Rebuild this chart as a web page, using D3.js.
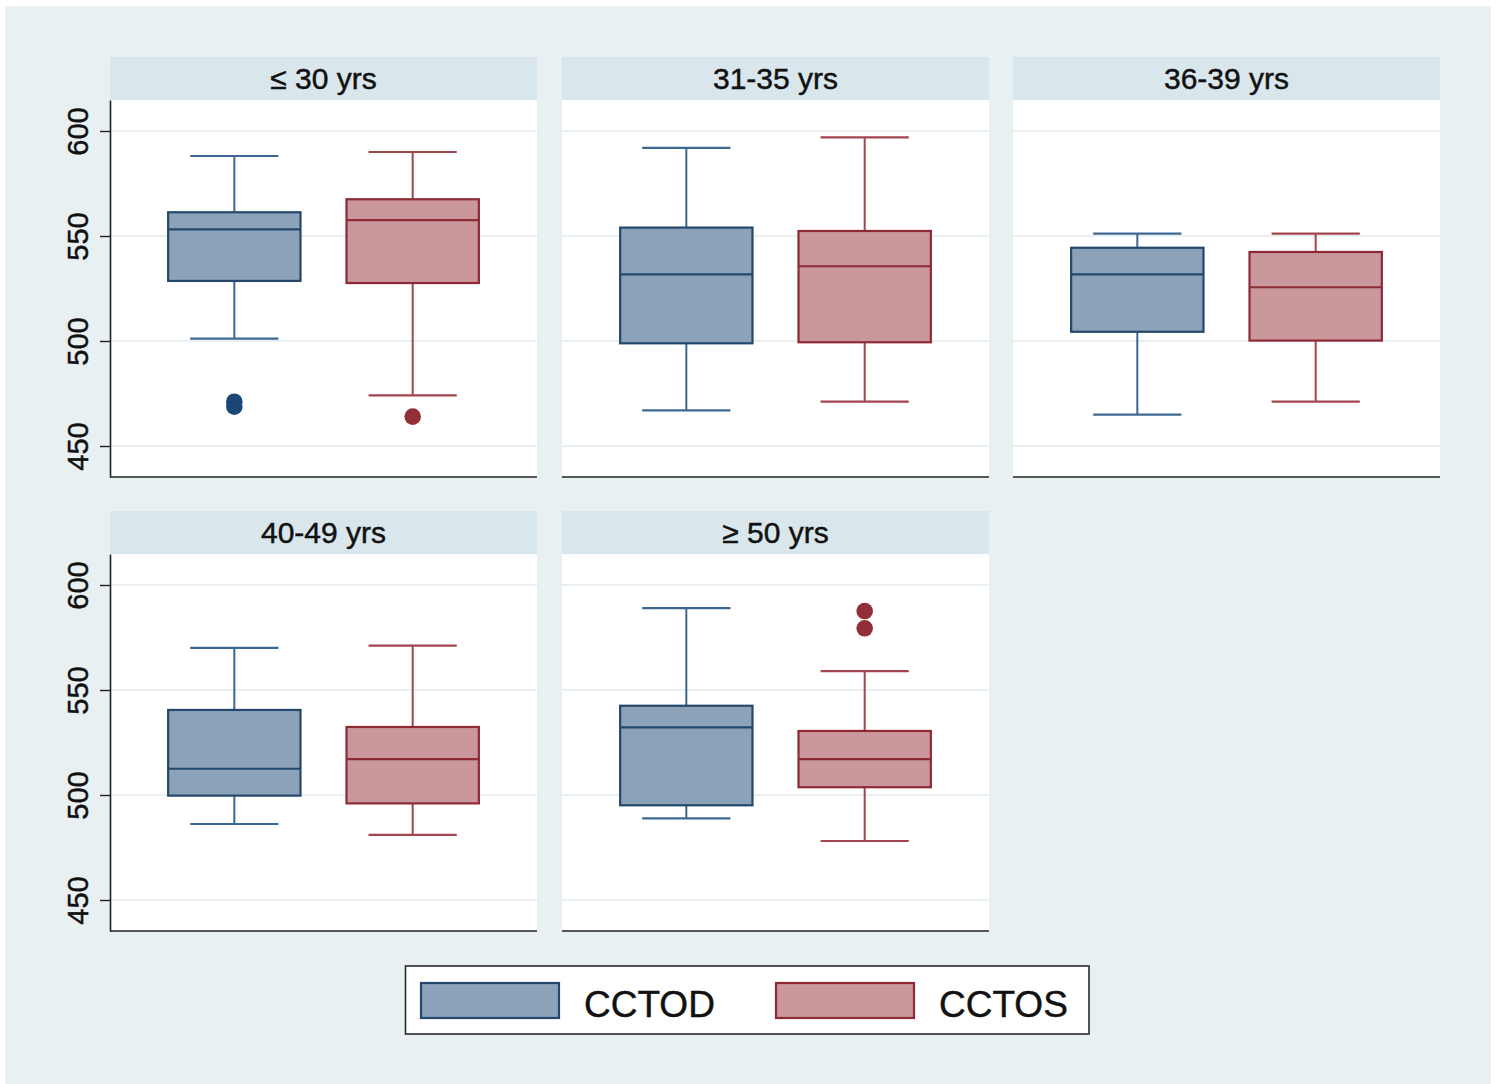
<!DOCTYPE html>
<html>
<head>
<meta charset="utf-8">
<script src="https://cdn.jsdelivr.net/npm/d3@7"></script>
<style>
  html, body { margin: 0; padding: 0; background: #ffffff; }
  svg { display: block; }
  text { font-family: "Liberation Sans", Arial, Helvetica, sans-serif; fill: #111; stroke: #111; stroke-width: 0.45px; }
</style>
</head>
<body>
<svg id="chart" width="1501" height="1084"></svg>
<script>
// Age groups (one panel each) and the two series compared inside each panel
const groups = ["≤ 30 yrs", "31-35 yrs", "36-39 yrs", "40-49 yrs", "≥ 50 yrs"];
const series = ["CCTOD", "CCTOS"];

// Five-number summaries per group: [lower whisker, Q1, median, Q3, upper whisker]
const cctodBox = [
  [501.1, 528.6, 553.2, 561.3, 588.1],
  [467.0, 498.9, 531.7, 554.0, 592.0],
  [464.9, 504.4, 531.7, 544.4, 551.1],
  [486.2, 499.7, 512.5, 540.5, 570.1],
  [488.9, 495.1, 532.2, 542.5, 589.0]
];
const cctosBox = [
  [474.1, 527.6, 557.6, 567.5, 590.0],
  [471.1, 499.4, 535.6, 552.4, 597.0],
  [471.1, 500.2, 525.6, 542.4, 551.1],
  [481.0, 496.0, 517.1, 532.4, 571.1],
  [478.1, 503.7, 517.1, 530.5, 559.0]
];

// Points beyond the whiskers
const cctodOutliers = [[468.7, 471.1], [], [], [], []];
const cctosOutliers = [[464.0], [], [], [], [579.4, 587.6]];

const yTicks = [450, 500, 550, 600];
const yDomain = [435.24, 614.76];

// Styling
const styles = {
  CCTOD: { fill: "#8ca2b8", stroke: "#23486b", whisker: "#3b6790", dot: "#1b4774" },
  CCTOS: { fill: "#c9979c", stroke: "#8e2a36", whisker: "#a3454f", dot: "#922e36" }
};

const svg = d3.select("#chart");

// Graph region background
svg.append("rect")
  .attr("x", 5).attr("y", 6).attr("width", 1486).attr("height", 1078)
  .attr("fill", "#e9f0f2");

// Panel layout: 3 columns, 2 rows
const colX = [110, 562, 1013];
const rowY = [57, 511];
const panelW = 427, stripH = 43, plotH = 377;

const x = d3.scaleBand()
  .domain(series)
  .range([0, panelW])
  .paddingInner(0.258)
  .paddingOuter(0.326);

const y = d3.scaleLinear().domain(yDomain).range([plotH, 0]);

groups.forEach((g, i) => {
  const col = i % 3, row = Math.floor(i / 3);
  const px = colX[col], py = rowY[row];

  const panel = svg.append("g").attr("transform", `translate(${px},${py})`);

  // Title strip
  panel.append("rect")
    .attr("x", 0).attr("y", 0).attr("width", panelW).attr("height", stripH)
    .attr("fill", "#d9e6eb");
  panel.append("text")
    .attr("x", panelW / 2).attr("y", 32)
    .attr("text-anchor", "middle")
    .attr("font-size", 30)
    .text(g);

  const plot = panel.append("g").attr("transform", `translate(0,${stripH})`);

  // Plot region
  plot.append("rect")
    .attr("x", 0).attr("y", 0).attr("width", panelW).attr("height", plotH)
    .attr("fill", "#ffffff");

  // Horizontal grid
  plot.selectAll("line.grid")
    .data(yTicks)
    .join("line")
    .attr("class", "grid")
    .attr("x1", 0).attr("x2", panelW)
    .attr("y1", d => y(d)).attr("y2", d => y(d))
    .attr("stroke", "#eaeff1")
    .attr("stroke-width", 2);

  // Boxes
  const sets = [
    { s: "CCTOD", box: cctodBox[i], out: cctodOutliers[i] },
    { s: "CCTOS", box: cctosBox[i], out: cctosOutliers[i] }
  ];

  sets.forEach(({ s, box, out }) => {
    const st = styles[s];
    const bx = x(s), bw = x.bandwidth(), cx = bx + bw / 2;
    const capW = bw * 2 / 3;
    const [lo, q1, med, q3, hi] = box;
    const gBox = plot.append("g");

    // whiskers
    gBox.append("line")
      .attr("x1", cx).attr("x2", cx).attr("y1", y(q3)).attr("y2", y(hi))
      .attr("stroke", st.whisker).attr("stroke-width", 2);
    gBox.append("line")
      .attr("x1", cx).attr("x2", cx).attr("y1", y(q1)).attr("y2", y(lo))
      .attr("stroke", st.whisker).attr("stroke-width", 2);
    // caps
    [lo, hi].forEach(v => {
      gBox.append("line")
        .attr("x1", cx - capW / 2).attr("x2", cx + capW / 2)
        .attr("y1", y(v)).attr("y2", y(v))
        .attr("stroke", st.whisker).attr("stroke-width", 2.2);
    });
    // box
    gBox.append("rect")
      .attr("x", bx).attr("y", y(q3))
      .attr("width", bw).attr("height", y(q1) - y(q3))
      .attr("fill", st.fill)
      .attr("stroke", st.stroke).attr("stroke-width", 2.2);
    // median
    gBox.append("line")
      .attr("x1", bx).attr("x2", bx + bw)
      .attr("y1", y(med)).attr("y2", y(med))
      .attr("stroke", st.stroke).attr("stroke-width", 2.2);
    // outliers
    gBox.selectAll("circle")
      .data(out)
      .join("circle")
      .attr("cx", cx).attr("cy", d => y(d))
      .attr("r", 8.3)
      .attr("fill", st.dot);
  });

  // Bottom axis line
  plot.append("line")
    .attr("x1", 0).attr("x2", panelW)
    .attr("y1", plotH).attr("y2", plotH)
    .attr("stroke", "#222").attr("stroke-width", 1.6);

  // Left axis on the first column only
  if (col === 0) {
    const axis = plot.append("g")
      .call(d3.axisLeft(y).tickValues(yTicks).tickSize(10).tickSizeOuter(0).tickPadding(0));
    axis.select(".domain").attr("stroke", "#222").attr("stroke-width", 1.6);
    axis.selectAll(".tick line").attr("stroke", "#222").attr("stroke-width", 1.4);
    axis.selectAll(".tick text")
      .attr("font-size", 29)
      .attr("font-family", "'Liberation Sans', Arial, Helvetica, sans-serif")
      .attr("fill", "#111")
      .attr("x", 0).attr("dy", 0)
      .attr("text-anchor", "middle")
      .attr("transform", "translate(-22,0) rotate(-90)");
  }
});

// Legend
const legend = svg.append("g");
legend.append("rect")
  .attr("x", 405.5).attr("y", 966).attr("width", 683.5).attr("height", 68)
  .attr("fill", "#ffffff").attr("stroke", "#2a2a2a").attr("stroke-width", 1.6);

const legendX = d3.scaleOrdinal().domain(series).range([421, 776]);
series.forEach(s => {
  const lx = legendX(s);
  legend.append("rect")
    .attr("x", lx).attr("y", 983).attr("width", 138).attr("height", 35)
    .attr("fill", styles[s].fill)
    .attr("stroke", styles[s].stroke).attr("stroke-width", 2.2);
  legend.append("text")
    .attr("x", lx + 163).attr("y", 1016.5)
    .attr("font-size", 37)
    .text(s);
});
</script>
</body>
</html>
